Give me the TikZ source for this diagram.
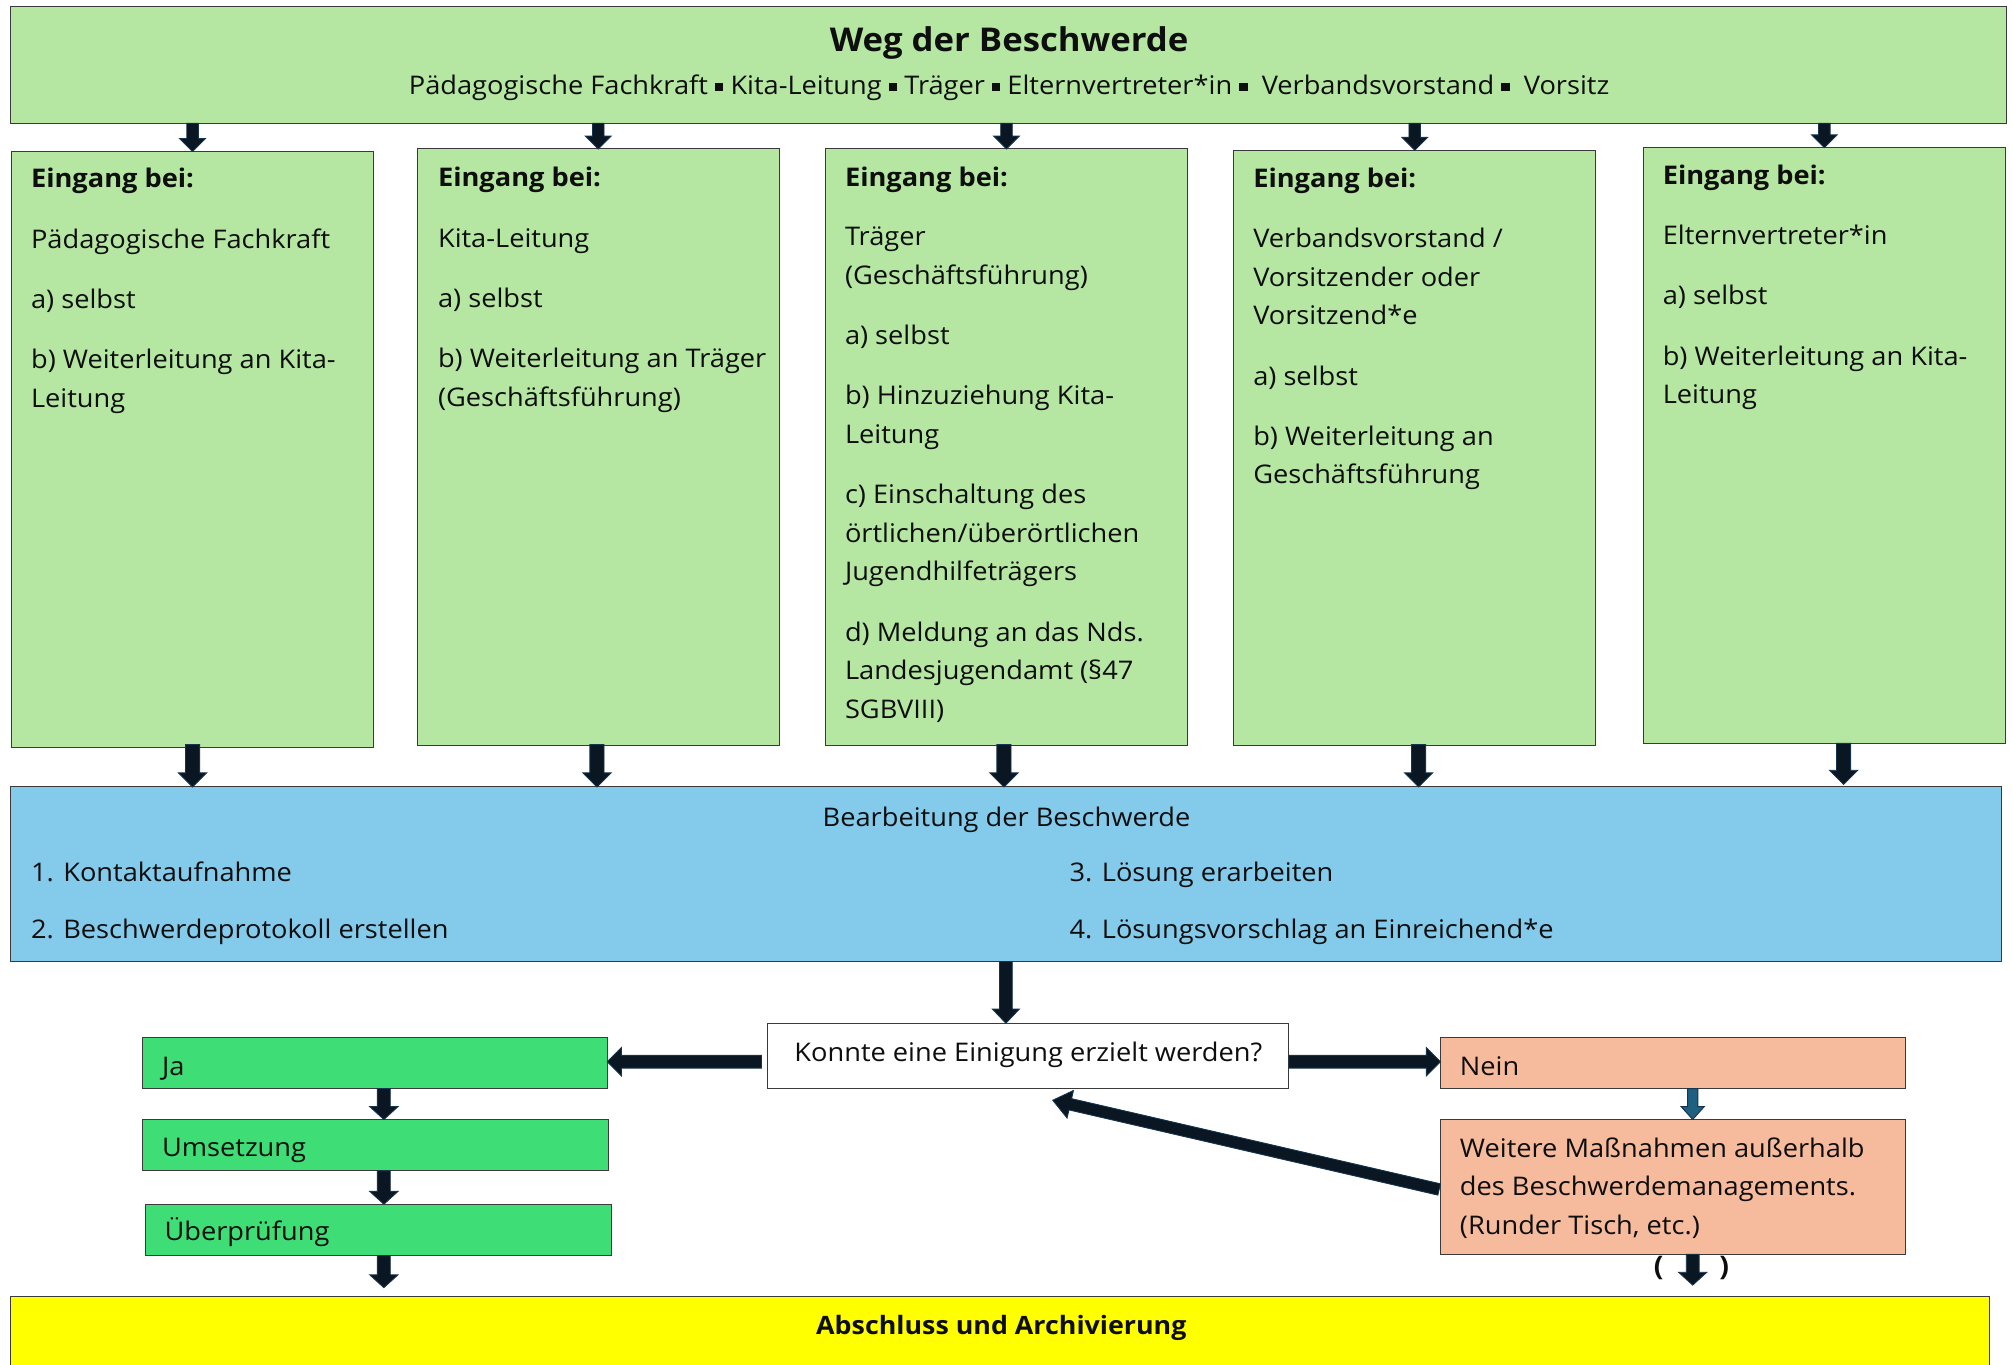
\documentclass[tikz,border=0pt]{standalone}
\usepackage{fontspec}
\setmainfont{Open Sans}[FakeStretch=1.06]
\usetikzlibrary{calc}
\definecolor{lgreen}{HTML}{B5E6A2}
\definecolor{lblue}{HTML}{83CAEB}
\definecolor{bgreen}{HTML}{3FDD75}
\definecolor{salmon}{HTML}{F5BB9C}
\definecolor{yell}{HTML}{FFFF00}
\definecolor{bord}{HTML}{3A3A3A}
\definecolor{arrfill}{HTML}{0A1621}
\definecolor{arrline}{HTML}{15344D}
\definecolor{tealfill}{HTML}{1F5F80}
\definecolor{txt}{HTML}{0E0E0E}
% block arrow: [fill] {from} {to} {shaft half} {head half} {head length}
\newcommand{\barrow}[6][arrfill]{%
  \filldraw[fill=#1, draw=arrline, line width=0.7pt, line join=miter]
    let \p1=#2, \p2=#3,
        \n1={atan2(\y2-\y1,\x2-\x1)},
        \n2={veclen(\x2-\x1,\y2-\y1)} in
    [shift={(\p1)}, rotate=\n1]
    (0pt,-#4pt) -- ({\n2-#6pt},-#4pt) -- ({\n2-#6pt},-#5pt) -- (\n2,0pt)
    -- ({\n2-#6pt},#5pt) -- ({\n2-#6pt},#4pt) -- (0pt,#4pt) -- cycle;
}
\tikzset{
  box/.style={draw=bord, line width=0.8pt, rectangle, inner sep=0pt, outer sep=0pt, anchor=north west},
  body/.style={font=\fontsize{20}{30}\selectfont, text=txt, inner sep=0pt},
  line/.style={body, anchor=base west},
  coltext/.style={body, anchor=north west, align=left},
}
\begin{document}
\begin{tikzpicture}[x=1pt,y=-1pt]
\useasboundingbox (0,0) rectangle (1568,1063);
% boxes
\node[box, fill=lgreen, minimum width=1555pt, minimum height=91pt] (hdr) at (8,5) {};
\node[box, fill=lgreen, minimum width=282pt, minimum height=464pt] (c1) at (9,118) {};
\node[box, fill=lgreen, minimum width=282pt, minimum height=465pt] (c2) at (325,116) {};
\node[box, fill=lgreen, minimum width=282pt, minimum height=465pt] (c3) at (643,116) {};
\node[box, fill=lgreen, minimum width=282pt, minimum height=464pt] (c4) at (961,117) {};
\node[box, fill=lgreen, minimum width=282pt, minimum height=464pt] (c5) at (1280,115) {};
\node[box, fill=lblue, minimum width=1551pt, minimum height=136pt] (blue) at (8,613) {};
\node[box, fill=white, minimum width=406pt, minimum height=51pt] (q) at (598,797) {};
\node[box, fill=bgreen, minimum width=362pt, minimum height=40pt] (ja) at (111,808) {};
\node[box, fill=salmon, minimum width=362pt, minimum height=40pt] (nein) at (1122,808) {};
\node[box, fill=bgreen, minimum width=363pt, minimum height=40pt] (ums) at (111,872) {};
\node[box, fill=bgreen, minimum width=363pt, minimum height=40pt] (ueb) at (113,938) {};
\node[box, fill=salmon, minimum width=362pt, minimum height=105pt] (weit) at (1122,872) {};
\node[box, fill=yell, minimum width=1542pt, minimum height=80pt] (absch) at (8,1010) {};

% header text
\node[font=\fontsize{25.5}{28}\selectfont\bfseries, text=txt, inner sep=0pt, anchor=base] (title) at (786,40.5) {Weg der Beschwerde};
\newcommand{\sq}{\rule[2.3pt]{6.5pt}{6.5pt}}
\node[body, anchor=base] (sub) at (786,73.5) {Pädagogische Fachkraft \sq{} Kita-Leitung \sq{} Träger \sq{} Elternvertreter*in \sq{}\ \ Verbandsvorstand \sq{}\ \ Vorsitz};

% column texts
\node[coltext] (t1) at (24,131) {\textbf{Eingang bei:}\\[17pt] Pädagogische Fachkraft\\[17pt] a) selbst\\[17pt] b) Weiterleitung an Kita-\\ Leitung};
\node[coltext] (t2) at (341,130) {\textbf{Eingang bei:}\\[17pt] Kita-Leitung\\[17pt] a) selbst\\[17pt] b) Weiterleitung an Träger\\ (Geschäftsführung)};
\node[coltext] (t3) at (658,130) {\textbf{Eingang bei:}\\[16pt] Träger\\ (Geschäftsführung)\\[17pt] a) selbst\\[17pt] b) Hinzuziehung Kita-\\ Leitung\\[17pt] c) Einschaltung des\\ örtlichen/überörtlichen\\ Jugendhilfeträgers\\[17pt] d) Meldung an das Nds.\\ Landesjugendamt (§47\\ SGBVIII)};
\node[coltext] (t4) at (976,130.5) {\textbf{Eingang bei:}\\[17pt] Verbandsvorstand /\\ Vorsitzender oder\\ Vorsitzend*e\\[17pt] a) selbst\\[17pt] b) Weiterleitung an\\ Geschäftsführung};
\node[coltext] (t5) at (1295,128) {\textbf{Eingang bei:}\\[17pt] Elternvertreter*in\\[17pt] a) selbst\\[17pt] b) Weiterleitung an Kita-\\ Leitung};

% blue box texts
\node[body, anchor=base] (bt) at (784,643.5) {Bearbeitung der Beschwerde};
\node[line] (b1) at (24,687) {1. Kontaktaufnahme};
\node[line] (b2) at (24,731) {2. Beschwerdeprotokoll erstellen};
\node[line] (b3) at (833,687) {3. Lösung erarbeiten};
\node[line] (b4) at (833,731) {4. Lösungsvorschlag an Einreichend*e};

% lower texts
\node[body, anchor=base] (qt) at (801,826.5) {Konnte eine Einigung erzielt werden?};
\node[line] (jat) at (126,837.5) {Ja};
\node[line] (neint) at (1137,837.5) {Nein};
\node[line] (umst) at (126,900.5) {Umsetzung};
\node[line] (uebt) at (128,966.5) {Überprüfung};
\node[coltext] (weitt) at (1137,886) {Weitere Maßnahmen außerhalb\\ des Beschwerdemanagements.\\ (Runder Tisch, etc.)};
\node[font=\fontsize{19.7}{26}\selectfont\bfseries, text=txt, inner sep=0pt, anchor=base] (abscht) at (780,1039.5) {Abschluss und Archivierung};
\node[font=\fontsize{21}{26}\selectfont\bfseries, text=txt] (pl) at (1292,988) {(};
\node[font=\fontsize{21}{26}\selectfont\bfseries, text=txt] (pr) at (1343,988) {)};

% helper coordinates
\coordinate (vx) at (299,0);
\coordinate (rx) at (1318.5,0);

% arrows header -> columns
\barrow{(hdr.south -| c1.north)}{(c1.north)}{4.5}{10}{10}
\barrow{(hdr.south -| c2.north)}{(c2.north)}{4.5}{10}{10}
\barrow{(hdr.south -| c3.north)}{(c3.north)}{4.5}{10}{10}
\barrow{(hdr.south -| c4.north)}{(c4.north)}{4.5}{10}{10}
\barrow{(hdr.south -| c5.north)}{(c5.north)}{4.5}{10}{10}
% columns -> blue
\barrow{($(c1.south)+(0,-2)$)}{(c1.south |- blue.north)}{5.5}{11}{11}
\barrow{($(c2.south)+(-1,-1)$)}{($(c2.south |- blue.north)+(-1,0)$)}{5.5}{11}{11}
\barrow{($(c3.south)+(-2,-1)$)}{($(c3.south |- blue.north)+(-2,0)$)}{5.5}{11}{11}
\barrow{($(c4.south)+(3,-1)$)}{($(c4.south |- blue.north)+(3,0)$)}{5.5}{11}{11}
\barrow{($(c5.south)+(15,0)$)}{($(c5.south |- blue.north)+(15,-2)$)}{5.5}{11}{11}
% blue -> question
\barrow{(blue.south)}{(blue.south |- q.north)}{5}{10.5}{11}
% question -> ja / nein
\barrow{($(q.west |- ja.east)+(-5,-1)$)}{($(ja.east)+(0,-1)$)}{5}{11}{11}
\barrow{($(q.east |- nein.west)+(0,-1)$)}{($(nein.west)+(0,-1)$)}{5}{11}{11}
% green chain
\barrow{(ja.south -| vx)}{(ums.north -| vx)}{5}{11}{10}
\barrow{(ums.south -| vx)}{(ueb.north -| vx)}{5}{11}{10}
\barrow{(ueb.south -| vx)}{($(absch.north -| vx)+(0,-7)$)}{5}{11}{10}
% nein -> weitere
\barrow[tealfill]{(nein.south -| rx)}{(weit.north -| rx)}{4}{9}{10}
% weitere -> abschluss
\barrow{(weit.south -| rx)}{($(absch.north -| rx)+(0,-9)$)}{5}{11}{10}
% weitere -> question (back)
\barrow{($(weit.west)+(-1,2)$)}{($(q.south)+(19,9)$)}{4.5}{11}{14}
\end{tikzpicture}
\end{document}
